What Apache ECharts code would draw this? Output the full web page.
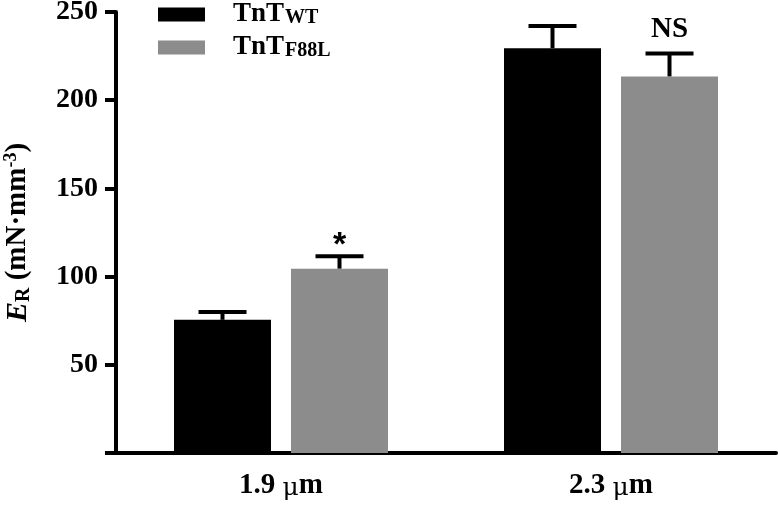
<!DOCTYPE html>
<html>
<head>
<meta charset="utf-8">
<script src="https://cdn.jsdelivr.net/npm/echarts@6/dist/echarts.min.js"></script>
<style>html,body{margin:0;padding:0;background:#fff;}#c{width:778px;height:506px;}</style>
</head>
<body>
<div id="c"></div>
<script>
var categories = ['1.9', '2.3'];
var wtValues = [75.5, 229.5];
var wtErrors = [4.5, 12.5];
var f88lValues = [104.5, 213.5];
var f88lErrors = [7, 13];
var f88lMarks = ['*', 'NS'];
var yTicks = [0, 50, 100, 150, 200, 250];

var FONT = '"Liberation Serif", "Times New Roman", serif';
var GRAY = '#8c8c8c';
var BAR_W = 97, BAR_GAP = 20;

var chart = echarts.init(document.getElementById('c'));

function errorSeries(name, values, errors, side, marks) {
  var data = values.map(function (v, i) { return [i, v, errors[i], marks ? marks[i] : '']; });
  return {
    type: 'custom',
    name: name + ' err',
    z: 5,
    silent: true,
    data: data,
    renderItem: function (params, api) {
      var i = api.value(0), v = api.value(1), e = api.value(2);
      var top = api.coord([i, v]);
      var up = api.coord([i, v + e]);
      var cx = top[0] + side * (BAR_W + BAR_GAP) / 2;
      var capHalf = 24;
      var children = [
        { type: 'rect', shape: { x: cx - 2, y: up[1], width: 4, height: top[1] - up[1] }, style: { fill: '#000' } },
        { type: 'rect', shape: { x: cx - capHalf, y: up[1] - 2, width: capHalf * 2, height: 4 }, style: { fill: '#000' } }
      ];
      var m = data[params.dataIndex][3];
      if (m === '*') {
        children.push({ type: 'text', style: { text: '*', x: cx, y: up[1] + 6, align: 'center', verticalAlign: 'bottom', font: 'bold 34px "Liberation Sans", Arial, sans-serif', fill: '#000' } });
      } else if (m) {
        children.push({ type: 'text', style: { text: m, x: cx, y: up[1] - 9, align: 'center', verticalAlign: 'bottom', font: 'bold 29px ' + FONT, fill: '#000' } });
      }
      return { type: 'group', children: children };
    }
  };
}

var option = {
  animation: false,
  backgroundColor: '#fff',
  grid: { left: 116, right: 2, top: 12, bottom: 53, containLabel: false, outerBoundsMode: 'none' },
  legend: {
    left: 158, top: -3, padding: 0, orient: 'vertical', itemWidth: 47, itemHeight: 14, itemGap: 2,
    icon: 'rect',
    data: ['WT', 'F88L'],
    formatter: function (n) { return '{a|TnT}{b|' + n + '}'; },
    textStyle: {
      padding: [0, 0, 0, 23],
      rich: {
        a: { fontFamily: FONT, fontWeight: 'bold', fontSize: 27, color: '#000', lineHeight: 27, verticalAlign: 'top' },
        b: { fontFamily: FONT, fontWeight: 'bold', fontSize: 20, color: '#000', lineHeight: 27, verticalAlign: 'bottom', padding: [11, 0, 0, 1] }
      }
    }
  },
  xAxis: {
    type: 'category',
    data: categories,
    axisLine: { lineStyle: { color: '#000', width: 4 } },
    axisTick: { alignWithLabel: true, length: 10, lineStyle: { color: '#000', width: 4 } },
    axisLabel: {
      margin: 17,
      formatter: function (v) { return '{n|' + v + ' }{u|\u03bc}{n|m}'; },
      rich: {
        n: { fontFamily: FONT, fontWeight: 'bold', fontSize: 29, color: '#000' },
        u: { fontFamily: '"DejaVu Serif", serif', fontSize: 25, color: '#000', padding: [6, 0, 0, 0] }
      }
    }
  },
  yAxis: {
    type: 'value',
    min: yTicks[0], max: yTicks[yTicks.length - 1], interval: 50,
    splitLine: { show: false },
    axisLine: { show: true, lineStyle: { color: '#000', width: 4 } },
    axisTick: { show: true, length: 11, lineStyle: { color: '#000', width: 4 } },
    axisLabel: {
      margin: 18,
      fontFamily: FONT, fontWeight: 'bold', fontSize: 28, color: '#000',
      formatter: function (v) { return v === 0 ? '' : String(v); }
    },
    name: '{e|E}{s|R}{t| (mN\u00b7mm}{p|-3}{t|)}',
    nameLocation: 'middle',
    nameRotate: 90,
    nameGap: 82,
    nameTextStyle: {
      rich: {
        e: { fontFamily: FONT, fontStyle: 'italic', fontWeight: 'bold', fontSize: 30, color: '#000', lineHeight: 32 },
        s: { fontFamily: FONT, fontWeight: 'bold', fontSize: 20, color: '#000', lineHeight: 32, verticalAlign: 'bottom', padding: [9, 0, 0, 0] },
        t: { fontFamily: FONT, fontWeight: 'bold', fontSize: 29, color: '#000', lineHeight: 32 },
        p: { fontFamily: FONT, fontWeight: 'bold', fontSize: 18, color: '#000', lineHeight: 32, verticalAlign: 'top', padding: [0, 0, 11, 0] }
      }
    }
  },
  series: [
    { name: 'WT', type: 'bar', data: wtValues, barWidth: BAR_W, barGap: (BAR_GAP / BAR_W * 100) + '%', itemStyle: { color: '#000' } },
    { name: 'F88L', type: 'bar', data: f88lValues, barWidth: BAR_W, itemStyle: { color: GRAY } },
    errorSeries('WT', wtValues, wtErrors, -1, null),
    errorSeries('F88L', f88lValues, f88lErrors, 1, f88lMarks)
  ]
};
chart.setOption(option);
</script>
</body>
</html>
